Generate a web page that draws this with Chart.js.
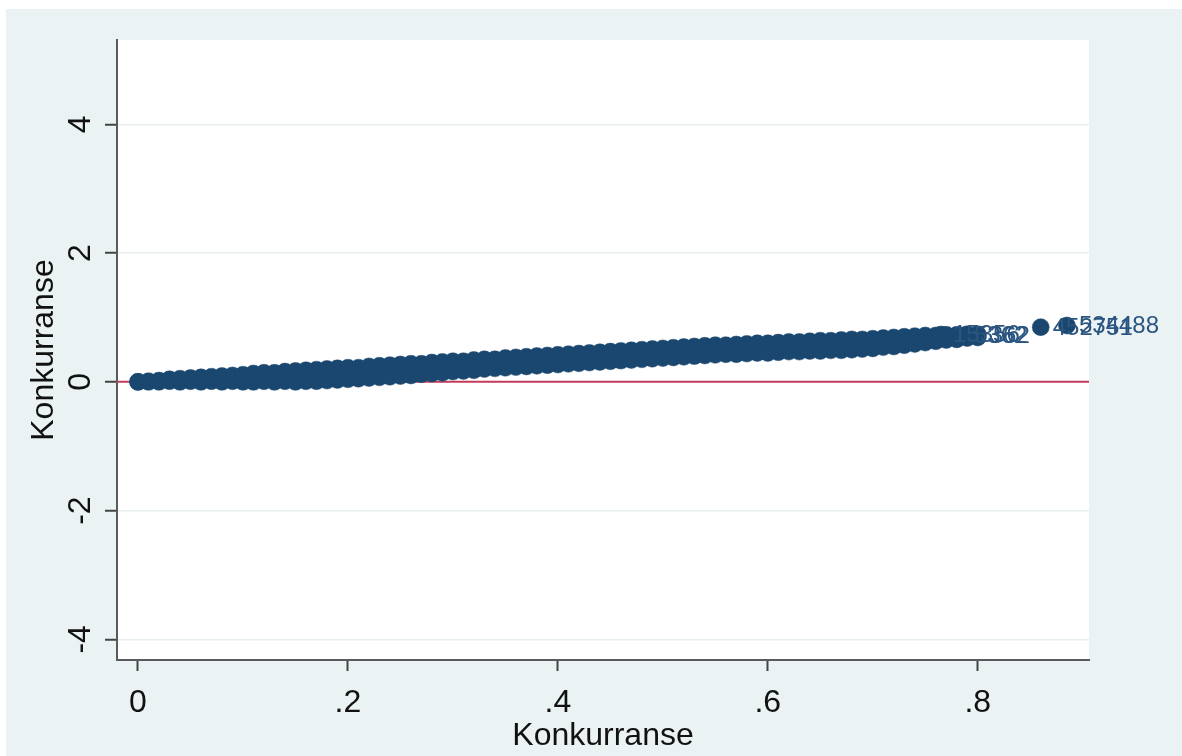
<!DOCTYPE html>
<html>
<head>
<meta charset="utf-8">
<script src="https://cdn.jsdelivr.net/npm/chart.js@4.4.1/dist/chart.umd.min.js"></script>
<style>
  html, body { margin: 0; padding: 0; background: #ffffff; }
  #wrap { width: 1182px; height: 756px; position: relative; }
</style>
</head>
<body>
<div id="wrap"><canvas id="c"></canvas></div>
<script>
// ---- data ----
const bandX = [0.00,0.01,0.02,0.03,0.04,0.05,0.06,0.07,0.08,0.09,
               0.10,0.11,0.12,0.13,0.14,0.15,0.16,0.17,0.18,0.19,
               0.20,0.21,0.22,0.23,0.24,0.25,0.26,0.27,0.28,0.29,
               0.30,0.31,0.32,0.33,0.34,0.35,0.36,0.37,0.38,0.39,
               0.40,0.41,0.42,0.43,0.44,0.45,0.46,0.47,0.48,0.49,
               0.50,0.51,0.52,0.53,0.54,0.55,0.56,0.57,0.58,0.59,
               0.60,0.61,0.62,0.63,0.64,0.65,0.66,0.67,0.68,0.69,
               0.70,0.71,0.72,0.73,0.74,0.75,0.76,0.77,0.78,0.79,0.80];
const bandUpper = [0.00,0.01,0.02,0.04,0.05,0.06,0.07,0.08,0.09,0.10,
                   0.11,0.13,0.14,0.14,0.16,0.17,0.18,0.19,0.20,0.21,
                   0.22,0.22,0.24,0.25,0.26,0.27,0.28,0.28,0.30,0.31,
                   0.32,0.32,0.34,0.35,0.35,0.37,0.38,0.39,0.40,0.41,
                   0.42,0.43,0.44,0.45,0.46,0.47,0.48,0.49,0.50,0.51,
                   0.52,0.53,0.54,0.55,0.56,0.57,0.57,0.58,0.59,0.60,
                   0.60,0.61,0.62,0.62,0.63,0.64,0.64,0.65,0.66,0.66,
                   0.67,0.68,0.69,0.70,0.71,0.72,0.72,0.73,0.73,0.74,0.74];
const bandLower = [0.00,0.00,0.00,0.01,0.00,0.01,0.00,0.01,0.00,0.01,
                   0.00,0.00,0.01,0.00,0.01,0.00,0.01,0.01,0.02,0.03,
                   0.04,0.05,0.06,0.07,0.08,0.09,0.10,0.12,0.13,0.14,
                   0.16,0.17,0.18,0.20,0.21,0.22,0.23,0.24,0.25,0.26,
                   0.27,0.28,0.29,0.30,0.31,0.32,0.33,0.34,0.35,0.36,
                   0.37,0.38,0.39,0.40,0.41,0.42,0.43,0.43,0.44,0.45,
                   0.45,0.46,0.47,0.47,0.48,0.48,0.49,0.49,0.50,0.51,
                   0.52,0.54,0.55,0.57,0.59,0.61,0.63,0.65,0.66,0.68,0.69];
const tailX     = [0.765, 0.785, 0.800, 0.860, 0.885];
const tailY     = [0.735, 0.720, 0.725, 0.850, 0.875];
const tailLabel = ["15356", "5362", "362", "452751", "534488"];

const xTicks = [0, 0.2, 0.4, 0.6, 0.8];
const xTickLabels = ["0", ".2", ".4", ".6", ".8"];
const yTicks = [-4, -2, 0, 2, 4];
const yTickLabels = ["-4", "-2", "0", "2", "4"];
const xTitle = "Konkurranse";
const yTitle = "Konkurranse";
const xRange = [-0.02, 0.906];
const yRange = [-4.32, 5.31];
const refLineY = 0;

// ---- styling ----
const NAVY = "#1a476f";
const FONT = "'Liberation Sans', Arial, sans-serif";

const bgPlugin = {
  id: "bg",
  beforeDraw(chart) {
    const ctx = chart.ctx, a = chart.chartArea;
    ctx.save();
    ctx.fillStyle = "#ffffff";
    ctx.fillRect(0, 0, chart.width, chart.height);
    ctx.fillStyle = "#eaf2f3";
    ctx.fillRect(6, 9, chart.width - 6, chart.height - 9);
    ctx.fillStyle = "#ffffff";
    ctx.fillRect(a.left, a.top, a.right - a.left, a.bottom - a.top);
    ctx.restore();
  }
};

const textPlugin = {
  id: "texts",
  afterDatasetsDraw(chart) {
    const ctx = chart.ctx;
    const xs = chart.scales.x, ys = chart.scales.y;
    ctx.save();
    ctx.font = "24px " + FONT;
    ctx.fillStyle = "#2a5580";
    ctx.textAlign = "left";
    ctx.textBaseline = "middle";
    for (let i = 0; i < tailX.length; i++) {
      const px = xs.getPixelForValue(tailX[i]);
      const py = ys.getPixelForValue(tailY[i]);
      ctx.fillText(tailLabel[i], px + 12, py + 1);
    }
    ctx.restore();
  },
  afterDraw(chart) {
    const ctx = chart.ctx, a = chart.chartArea;
    const xs = chart.scales.x, ys = chart.scales.y;
    ctx.save();
    ctx.fillStyle = "#111111";
    ctx.font = "32px " + FONT;
    ctx.textBaseline = "alphabetic";
    ctx.textAlign = "center";
    xs.ticks.forEach((t) => {
      ctx.fillText(xTickLabels[xTicks.indexOf(t.value)], xs.getPixelForValue(t.value), 712);
    });
    ys.ticks.forEach((t) => {
      const py = ys.getPixelForValue(t.value);
      ctx.save();
      ctx.translate(90, py);
      ctx.rotate(-Math.PI / 2);
      ctx.fillText(yTickLabels[yTicks.indexOf(t.value)], 0, 0);
      ctx.restore();
    });
    ctx.fillText(xTitle, (a.left + a.right) / 2, 745);
    ctx.save();
    ctx.translate(53, (a.top + a.bottom) / 2);
    ctx.rotate(-Math.PI / 2);
    ctx.fillText(yTitle, 0, 0);
    ctx.restore();
    ctx.restore();
  }
};

const pointStyle = {
  type: "scatter",
  pointRadius: 8.5,
  pointHoverRadius: 8.5,
  pointBackgroundColor: NAVY,
  pointBorderColor: NAVY,
  pointBorderWidth: 0.5,
  showLine: false
};

new Chart(document.getElementById("c"), {
  data: {
    datasets: [
      Object.assign({ label: "tail", data: tailX.map((x, i) => ({ x: x, y: tailY[i] })) }, pointStyle),
      Object.assign({ label: "upper", data: bandX.map((x, i) => ({ x: x, y: bandUpper[i] })) }, pointStyle),
      Object.assign({ label: "lower", data: bandX.map((x, i) => ({ x: x, y: bandLower[i] })) }, pointStyle),
      {
        type: "line",
        label: "ref",
        data: [{ x: xRange[0], y: refLineY }, { x: xRange[1], y: refLineY }],
        borderColor: "#c33c5c",
        borderWidth: 2,
        pointRadius: 0,
        fill: false
      }
    ]
  },
  options: {
    responsive: true,
    maintainAspectRatio: false,
    animation: false,
    events: [],
    layout: { padding: { top: 40, right: 93, left: 0, bottom: 0 } },
    plugins: { legend: { display: false }, tooltip: { enabled: false } },
    scales: {
      x: {
        type: "linear",
        min: xRange[0], max: xRange[1],
        afterBuildTicks: (s) => { s.ticks = xTicks.map(v => ({ value: v })); },
        afterFit: (s) => { s.height = 96; },
        ticks: { display: false },
        grid: { drawOnChartArea: false, drawTicks: true, tickLength: 11, tickColor: "#444", tickWidth: 2 },
        border: { display: true, color: "#5a5a5a", width: 2 }
      },
      y: {
        type: "linear",
        min: yRange[0], max: yRange[1],
        afterBuildTicks: (s) => { s.ticks = yTicks.map(v => ({ value: v })); },
        afterFit: (s) => { s.width = 117; },
        ticks: { display: false },
        grid: { drawOnChartArea: true, color: "#e8eff1", lineWidth: 1.5, drawTicks: true, tickLength: 12, tickColor: "#444", tickWidth: 2 },
        border: { display: true, color: "#5a5a5a", width: 2 }
      }
    }
  },
  plugins: [bgPlugin, textPlugin]
});
</script>
</body>
</html>
